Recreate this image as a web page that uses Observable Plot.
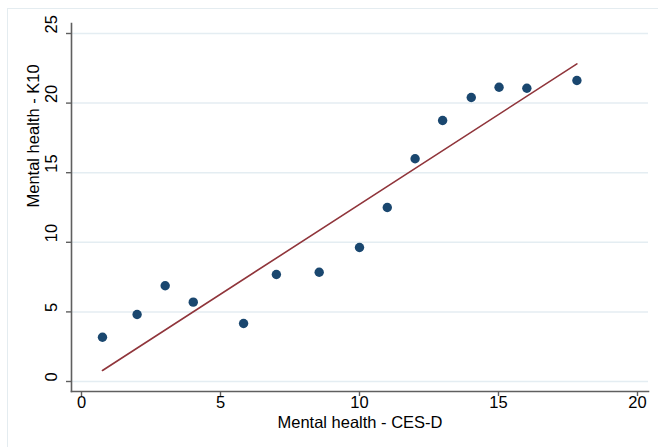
<!DOCTYPE html>
<html><head><meta charset="utf-8">
<script src="https://cdn.jsdelivr.net/npm/d3@7"></script>
<script src="https://cdn.jsdelivr.net/npm/@observablehq/plot@0.6"></script>
<style>
body{margin:0;background:#fff;}
#wrap{position:relative;width:658px;height:447px;overflow:hidden;background:#fff;}
#outer{position:absolute;left:7px;top:8px;width:700px;height:500px;border:1px solid #e4ecf0;}
#chart{position:absolute;left:0;top:0;}
</style></head><body>
<div id="wrap"><div id="outer"></div><div id="chart"></div></div>
<script>
const cesd = [0.755, 2.0, 3.01, 4.02, 5.83, 7.01, 8.55, 10.0, 11.0, 12.0, 12.99, 14.02, 15.02, 16.02, 17.82];
const k10  = [3.18, 4.81, 6.88, 5.70, 4.17, 7.69, 7.85, 9.63, 12.5, 16.0, 18.75, 20.4, 21.14, 21.07, 21.62];
const fitX = [0.755, 17.82];
const fitY = [0.79, 22.82];
const xTicks = [0, 5, 10, 15, 20];
const yTicks = [0, 5, 10, 15, 20, 25];
const xLabel = "Mental health - CES-D";
const yLabel = "Mental health - K10";

const points = cesd.map((x, i) => ({x, y: k10[i]}));
const fit = fitX.map((x, i) => ({x, y: fitY[i]}));
const font = "Helvetica, 'Liberation Sans', Arial, sans-serif";

const chart = Plot.plot({
  width: 658, height: 447,
  marginLeft: 71, marginRight: 10, marginTop: 23, marginBottom: 56,
  x: {domain: [0, 20], insetLeft: 10, insetRight: 11},
  y: {domain: [0, 25], insetTop: 10, insetBottom: 10},
  style: {background: "transparent", fontFamily: font, color: "#000", fontSize: "16px"},
  marks: [
    Plot.gridY(yTicks, {stroke: "#e4edf2", strokeOpacity: 1, strokeWidth: 1.5}),
    Plot.frame({anchor: "left", stroke: "#5f5f5f", strokeWidth: 1.6}),
    Plot.frame({anchor: "bottom", stroke: "#5f5f5f", strokeWidth: 1.6}),
    Plot.axisX(xTicks, {tickSize: 5, tickFormat: () => "", label: null, stroke: "#5f5f5f", strokeWidth: 1.4}),
    Plot.axisY(yTicks, {tickSize: 5, tickFormat: () => "", label: null, stroke: "#5f5f5f", strokeWidth: 1.4}),
    Plot.text(xTicks, {x: d => d, frameAnchor: "bottom", dy: 16.5, fontSize: 16.5, fill: "#000", text: d => String(d)}),
    Plot.text(yTicks, {y: d => d, frameAnchor: "left", dx: -19.5, rotate: -90, fontSize: 16.5, fill: "#000", text: d => String(d)}),
    Plot.line(fit, {x: "x", y: "y", stroke: "#90353b", strokeWidth: 1.6}),
    Plot.dot(points, {x: "x", y: "y", r: 4.7, fill: "#1a476f", stroke: null}),
    Plot.text([xLabel], {frameAnchor: "bottom", dy: 36, fontSize: 16.5, fill: "#000"}),
    Plot.text([yLabel], {frameAnchor: "left", dx: -38, rotate: -90, fontSize: 16.5, fill: "#000"})
  ]
});
document.getElementById("chart").appendChild(chart);
</script>
</body></html>
